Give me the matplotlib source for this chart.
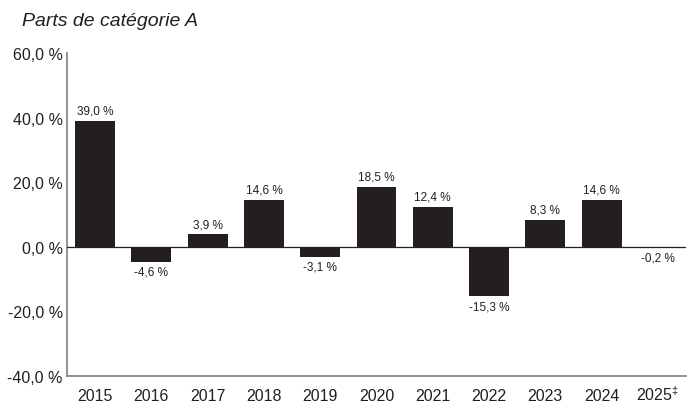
import matplotlib
matplotlib.use("Agg")
import matplotlib.pyplot as plt

years = ["2015", "2016", "2017", "2018", "2019", "2020", "2021", "2022", "2023", "2024", r"2025$^{\ddagger}$"]
values = [39.0, -4.6, 3.9, 14.6, -3.1, 18.5, 12.4, -15.3, 8.3, 14.6, -0.2]
yticks = [-40, -20, 0, 20, 40, 60]
title = "Parts de catégorie A"

plt.rcParams["font.family"] = ["Liberation Sans", "DejaVu Sans"]
plt.rcParams["mathtext.fontset"] = "custom"
plt.rcParams["mathtext.rm"] = "Liberation Sans"

def fmt(v):
    return f"{v:.1f}".replace(".", ",") + " %"

fig = plt.figure(figsize=(6.88, 4.10), dpi=100)
ax = fig.add_axes([67/688, 1 - 377/410, (686-67)/688, (377-54)/410])
x = list(range(len(years)))
ax.bar(x, values, width=0.71, color="#231f20", zorder=2)
ax.axhline(0, color="#231f20", lw=0.9, zorder=3)
for xi, v in zip(x, values):
    if v >= 0:
        ax.annotate(fmt(v), (xi, v), xytext=(0, 3), textcoords="offset points",
                    ha="center", va="bottom", fontsize=8.5, color="#231f20")
    else:
        ax.annotate(fmt(v), (xi, v), xytext=(0, -3), textcoords="offset points",
                    ha="center", va="top", fontsize=8.5, color="#231f20")
ax.set_ylim(-40, 60)
ax.set_xlim(-0.5, len(years) - 0.5)
ax.set_yticks(yticks)
ax.set_yticklabels([fmt(t) for t in yticks], fontsize=11.5, color="#231f20")
ax.set_xticks(x)
ax.set_xticklabels(years, fontsize=11.5, color="#231f20", va="baseline")
ax.tick_params(length=0)
ax.tick_params(axis="x", pad=17)
ax.tick_params(axis="y", pad=3)
for s in ["top", "right"]:
    ax.spines[s].set_visible(False)
for s in ["left", "bottom"]:
    ax.spines[s].set_color("#808080")
    ax.spines[s].set_linewidth(1.2)
fig.text(22/688, 1 - 22/410, title, fontsize=14, style="italic", color="#231f20", va="center", ha="left")
fig.savefig("out.png", dpi=100)
